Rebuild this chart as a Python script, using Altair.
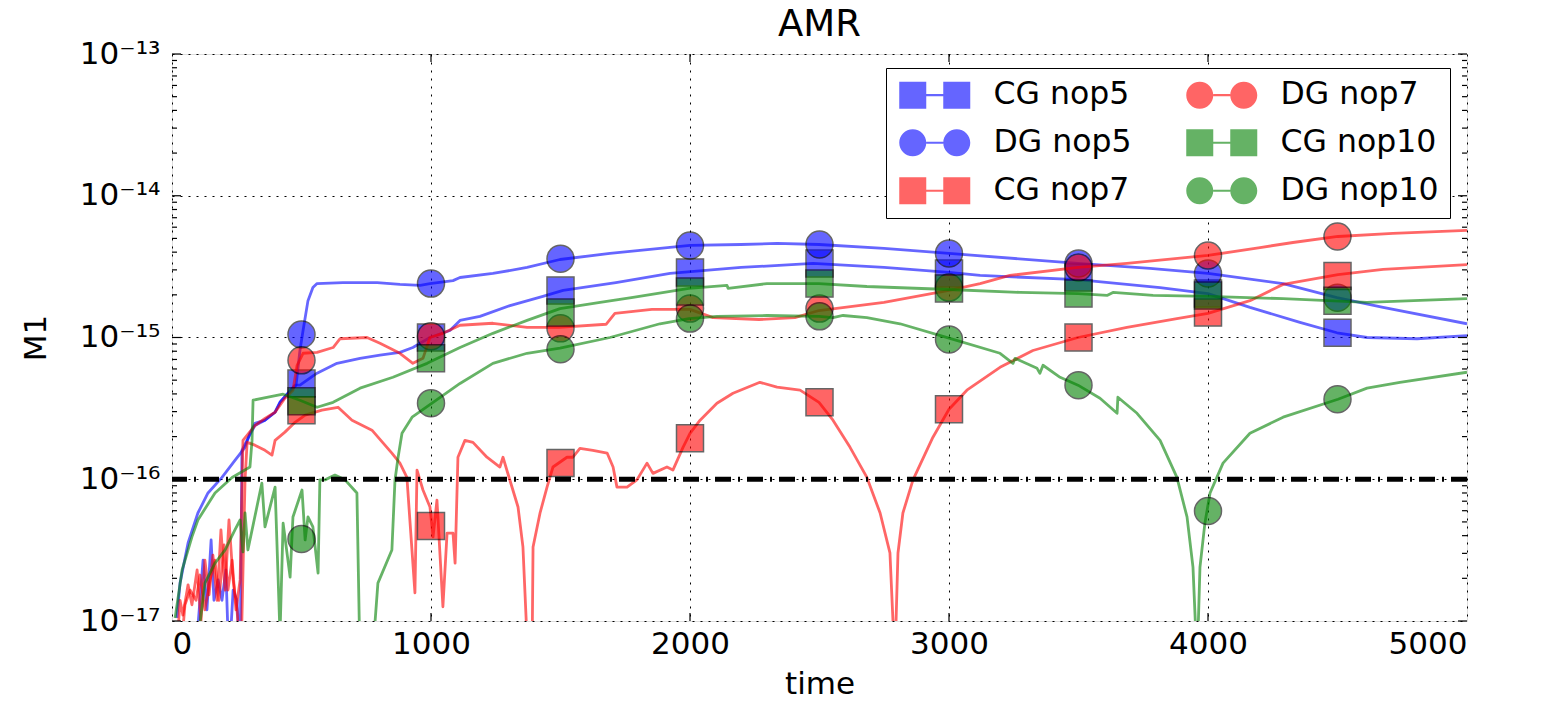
import altair as alt
import pandas as pd

# ---------------- data (time, M1) ----------------
cg_nop5 = [(19, 1.05e-17), (31, 1.85e-17), (62, 3.55e-17), (100, 5.78e-17), (139, 8.0e-17), (193, 1.03e-16),
           (243, 1.36e-16), (282, 1.68e-16), (301, 2.11e-16), (320, 2.48e-16), (359, 2.61e-16), (398, 2.97e-16),
           (417, 3.49e-16), (448, 4.04e-16), (475, 4.61e-16), (494, 4.61e-16), (560, 5.6e-16), (637, 6.57e-16),
           (726, 7.13e-16), (803, 7.5e-16), (880, 7.86e-16), (930, 8.5e-16), (996, 1.0e-15), (1073, 1.12e-15),
           (1112, 1.32e-15), (1189, 1.41e-15), (1305, 1.68e-15), (1432, 1.95e-15), (1510, 2.15e-15),
           (1714, 2.44e-15), (1923, 2.83e-15), (2197, 3.12e-15), (2475, 3.33e-15), (2749, 3.12e-15),
           (3000, 2.88e-15), (3120, 2.74e-15), (3498, 2.56e-15), (3815, 2.25e-15), (4000, 2.04e-15),
           (4162, 1.63e-15), (4355, 1.28e-15), (4498, 1.08e-15), (4614, 1.0e-15), (4807, 9.8e-16), (5000, 1.03e-15)]

dg_nop5 = [(89, 5e-18), (120, 2.69e-17), (135, 1.2e-17), (151, 3.73e-17), (162, 1.4e-17), (178, 1.95e-17),
           (193, 1.4e-17), (208, 2.29e-17), (220, 5e-18), (236, 1.65e-17), (251, 1.4e-17), (263, 5e-18),
           (270, 1.6e-16), (301, 2.07e-16), (320, 2.39e-16), (359, 2.61e-16), (398, 2.97e-16), (417, 3.49e-16),
           (448, 4.04e-16), (479, 4.61e-16), (494, 8.1e-16), (506, 1.12e-15), (525, 1.82e-15), (544, 2.25e-15),
           (560, 2.4e-15), (660, 2.44e-15), (792, 2.44e-15), (880, 2.37e-15), (958, 2.33e-15), (996, 2.4e-15),
           (1085, 2.52e-15), (1112, 2.65e-15), (1239, 2.83e-15), (1371, 3.12e-15), (1498, 3.55e-15),
           (1691, 3.92e-15), (1884, 4.25e-15), (2000, 4.46e-15), (2197, 4.53e-15), (2336, 4.61e-15),
           (2498, 4.53e-15), (2749, 4.25e-15), (3000, 3.92e-15), (3498, 3.33e-15), (3776, 3.07e-15),
           (4000, 2.83e-15), (4290, 2.4e-15), (4498, 1.91e-15), (4676, 1.63e-15), (5000, 1.25e-15)]

cg_nop7 = [(15, 5e-18), (31, 1.4e-17), (42, 1.1e-17), (62, 1.8e-17), (77, 1.3e-17), (97, 2.29e-17), (112, 1.0e-17),
           (127, 2.69e-17), (143, 1.53e-17), (158, 2.92e-17), (174, 1.4e-17), (189, 4.39e-17), (205, 1.65e-17),
           (220, 5.16e-17), (236, 1.95e-17), (251, 1.2e-17), (266, 5e-18), (282, 9.9e-17), (290, 1.82e-16),
           (320, 1.74e-16), (359, 1.6e-16), (386, 1.48e-16), (398, 1.88e-16), (436, 2.15e-16), (475, 2.52e-16),
           (514, 2.83e-16), (579, 3.07e-16), (641, 3.22e-16), (695, 2.61e-16), (772, 2.22e-16), (849, 1.53e-16),
           (880, 1.3e-16), (907, 1.03e-16), (938, 1.58e-17), (946, 1.16e-16), (969, 8.4e-17), (996, 6.37e-17),
           (1008, 3.92e-17), (1023, 7.13e-17), (1046, 1.26e-17), (1062, 4.17e-17), (1085, 4.17e-17),
           (1093, 2.56e-17), (1104, 1.43e-16), (1131, 1.88e-16), (1162, 1.82e-16), (1216, 1.43e-16),
           (1266, 1.22e-16), (1278, 1.43e-16), (1305, 9.8e-17), (1336, 6.37e-17), (1355, 3.33e-17),
           (1375, 5e-18), (1390, 5e-18), (1394, 3.33e-17), (1421, 5.78e-17), (1448, 8.8e-17), (1471, 1.22e-16),
           (1525, 1.43e-16), (1548, 1.43e-16), (1575, 1.65e-16), (1625, 1.6e-16), (1680, 1.53e-16),
           (1703, 1.22e-16), (1718, 8.8e-17), (1757, 8.8e-17), (1795, 9.9e-17), (1834, 1.3e-16), (1857, 1.1e-16),
           (1911, 1.22e-16), (1934, 1.16e-16), (1973, 1.68e-16), (2000, 2.11e-16), (2039, 2.61e-16),
           (2104, 3.44e-16), (2166, 4.04e-16), (2270, 4.83e-16), (2336, 4.46e-16), (2425, 4.25e-16),
           (2498, 3.49e-16), (2552, 2.61e-16), (2618, 1.68e-16), (2683, 1.03e-16), (2734, 5.78e-17),
           (2772, 3.02e-17), (2791, 5e-18), (2803, 3.02e-17), (2822, 5.78e-17), (2861, 9.9e-17), (2938, 1.98e-16),
           (3000, 3.12e-16), (3069, 4.25e-16), (3197, 6.16e-16), (3324, 8.1e-16), (3498, 1.0e-15),
           (3687, 1.18e-15), (3880, 1.36e-15), (4000, 1.48e-15), (4162, 1.82e-15), (4290, 2.37e-15),
           (4502, 2.78e-15), (4676, 3.02e-15), (5000, 3.27e-15)]

dg_nop7 = [(31, 5e-18), (50, 1.3e-17), (70, 1.65e-17), (93, 1.4e-17), (108, 2.11e-17), (127, 1.2e-17),
           (147, 1.95e-17), (166, 2.69e-17), (181, 1.4e-17), (201, 3.44e-17), (216, 1.65e-17), (232, 2.69e-17),
           (247, 1.2e-17), (263, 1.95e-17), (274, 1.88e-16), (320, 2.39e-16), (359, 2.69e-16), (398, 2.97e-16),
           (436, 3.73e-16), (467, 4.25e-16), (483, 6.37e-16), (506, 7.74e-16), (560, 7.86e-16), (622, 8.5e-16),
           (649, 9.8e-16), (753, 1.0e-15), (803, 9.1e-16), (880, 7.74e-16), (930, 6.57e-16), (969, 7.13e-16),
           (996, 1.0e-15), (1046, 1.07e-15), (1112, 1.22e-15), (1239, 1.26e-15), (1371, 1.18e-15),
           (1494, 1.18e-15), (1676, 1.24e-15), (1710, 1.48e-15), (1853, 1.58e-15), (2000, 1.58e-15),
           (2089, 1.38e-15), (2266, 1.34e-15), (2405, 1.38e-15), (2498, 1.55e-15), (2749, 1.77e-15),
           (3000, 2.15e-15), (3120, 2.4e-15), (3235, 2.74e-15), (3498, 3.12e-15), (3687, 3.33e-15),
           (4000, 3.79e-15), (4201, 4.31e-15), (4328, 4.68e-15), (4502, 5.16e-15), (4714, 5.42e-15),
           (5000, 5.69e-15)]

cg_nop10 = [(12, 1.05e-17), (39, 2.29e-17), (77, 3.92e-17), (100, 5.16e-17), (166, 8.0e-17), (232, 1.03e-16),
            (301, 1.22e-16), (309, 1.88e-16), (313, 3.61e-16), (371, 3.79e-16), (429, 3.98e-16), (494, 3.61e-16),
            (560, 3.22e-16), (622, 3.49e-16), (726, 4.39e-16), (853, 5.24e-16), (985, 6.57e-16), (1112, 8.5e-16),
            (1239, 1.07e-15), (1371, 1.32e-15), (1498, 1.6e-15), (1653, 1.77e-15), (1780, 1.92e-15),
            (1996, 2.22e-15), (2143, 2.33e-15), (2147, 2.22e-15), (2297, 2.4e-15), (2498, 2.4e-15),
            (2683, 2.29e-15), (3000, 2.18e-15), (3274, 2.08e-15), (3498, 2.04e-15), (3610, 1.98e-15),
            (3633, 2.08e-15), (3788, 1.98e-15), (4000, 1.95e-15), (4290, 1.88e-15), (4614, 1.77e-15),
            (5000, 1.88e-15)]

dg_nop10 = [(89, 5e-18), (127, 1.85e-17), (166, 2.56e-17), (205, 3.17e-17), (243, 4.39e-17), (263, 5.16e-17),
            (274, 3.07e-17), (282, 5.78e-17), (293, 3.17e-17), (347, 9.4e-17), (359, 4.61e-17), (398, 8.8e-17),
            (417, 8e-18), (429, 4.9e-17), (436, 3.92e-17), (456, 2.04e-17), (467, 5.42e-17), (502, 8.4e-17),
            (514, 3.73e-17), (525, 5.42e-17), (544, 4.61e-17), (564, 2.18e-17), (571, 9.9e-17), (591, 9.9e-17),
            (629, 1.07e-16), (668, 9.9e-17), (714, 8.0e-17), (726, 5e-18), (772, 5e-18), (795, 1.85e-17),
            (849, 3.17e-17), (861, 9.9e-17), (873, 1.43e-16), (888, 2.11e-16), (927, 2.74e-16), (1004, 3.44e-16),
            (1112, 4.74e-16), (1239, 6.57e-16), (1371, 7.74e-16), (1498, 8.4e-16), (1691, 1.0e-15),
            (1884, 1.25e-15), (1996, 1.36e-15), (2104, 1.41e-15), (2297, 1.43e-15), (2498, 1.41e-15),
            (2552, 1.38e-15), (2591, 1.43e-15), (2683, 1.38e-15), (2811, 1.25e-15), (3000, 9.9e-16),
            (3197, 7.74e-16), (3247, 6.57e-16), (3255, 7.13e-16), (3340, 6.06e-16), (3351, 5.6e-16),
            (3363, 6.37e-16), (3429, 5.24e-16), (3498, 4.61e-16), (3583, 3.73e-16), (3649, 2.92e-16),
            (3652, 3.79e-16), (3726, 2.92e-16), (3815, 1.88e-16), (3880, 1.03e-16), (3919, 5.42e-17),
            (3942, 2.4e-17), (3958, 5e-18), (3969, 2.4e-17), (3988, 4.9e-17), (4008, 8.0e-17), (4058, 1.3e-16),
            (4162, 2.11e-16), (4290, 2.74e-16), (4502, 3.67e-16), (4614, 4.39e-16), (4741, 4.83e-16),
            (5000, 5.69e-16)]

# markers every 500 time units
marker_times = [500, 1000, 1500, 2000, 2500, 3000, 3500, 4000, 4500]
cg_nop5_markers = [4.74e-16, 1.0e-15, 2.15e-15, 2.88e-15, 3.33e-15, 2.83e-15, 2.65e-15, 2.04e-15, 1.08e-15]
dg_nop5_markers = [1.05e-15, 2.4e-15, 3.6e-15, 4.46e-15, 4.53e-15, 3.92e-15, 3.33e-15, 2.83e-15, 1.91e-15]
cg_nop7_markers = [3.07e-16, 4.68e-17, 1.3e-16, 1.95e-16, 3.5e-16, 3.12e-16, 1.0e-15, 1.5e-15, 2.72e-15]
dg_nop7_markers = [6.9e-16, 1.02e-15, 1.16e-15, 1.6e-15, 1.6e-15, 2.25e-15, 3.12e-15, 3.79e-15, 5.16e-15]
cg_nop10_markers = [3.55e-16, 7.13e-16, 1.5e-15, 2.11e-15, 2.4e-15, 2.22e-15, 2.04e-15, 1.98e-15, 1.82e-15]
dg_nop10_markers = [3.79e-17, 3.44e-16, 8.26e-16, 1.36e-15, 1.41e-15, 9.7e-16, 4.61e-16, 5.97e-17, 3.67e-16]

series_names = ["CG nop5", "DG nop5", "CG nop7", "DG nop7", "CG nop10", "DG nop10"]
series_colors = ["#0000ff", "#0000ff", "#ff0000", "#ff0000", "#008000", "#008000"]
series_marker_shape = ["square", "circle", "square", "circle", "square", "circle"]
series_lines = [cg_nop5, dg_nop5, cg_nop7, dg_nop7, cg_nop10, dg_nop10]
series_markers = [cg_nop5_markers, dg_nop5_markers, cg_nop7_markers, dg_nop7_markers,
                  cg_nop10_markers, dg_nop10_markers]

# legend glyphs: marker - line - marker
sq_path = "M-1,-1H1V1H-1Z M2.26,-1H4.26V1H2.26Z M1,-0.08H2.26V0.08H1Z"
ci_path = ("M-1,0A1,1 0 1,1 1,0A1,1 0 1,1 -1,0Z M2.26,0A1,1 0 1,1 4.26,0A1,1 0 1,1 2.26,0Z "
           "M1,-0.08H2.26V0.08H1Z")
legend_glyphs = [sq_path if s == "square" else ci_path for s in series_marker_shape]

x_tick_values = [0, 1000, 2000, 3000, 4000, 5000]
x_inner_ticks = [1000, 2000, 3000, 4000]
y_tick_values = [1e-17, 1e-16, 1e-15, 1e-14, 1e-13]
y_tick_exponents = [-17, -16, -15, -14, -13]
y_tick_labels = ["10⁻¹⁷", "10⁻¹⁶", "10⁻¹⁵", "10⁻¹⁴", "10⁻¹³"]
y_minor_ticks = [m * d for d in (1e-17, 1e-16, 1e-15, 1e-14) for m in range(2, 10)]
threshold = [1e-16]

W, H = 1295, 567
FONT = "DejaVu Sans"
FS = 31

# ---------------- tables ----------------
line_tables = [pd.DataFrame({"time": [p[0] for p in pts], "M1": [p[1] for p in pts],
                             "idx": list(range(len(pts)))}) for pts in series_lines]
marker_tables = [pd.DataFrame({"time": marker_times, "M1": vals}) for vals in series_markers]
# one row per series, placed far outside the x domain (clipped) - it only carries the legend
legend_df = pd.DataFrame({"series": series_names, "time": [-3000.0] * 6, "M1": [1e-15] * 6})

label_expr = "".join(
    f"round(log(datum.value)/LN10) == {e} ? '{lab}' : " for e, lab in zip(y_tick_exponents, y_tick_labels)
) + "''"

x_scale = alt.Scale(domain=[0, 5000], nice=False, zero=False)
y_scale = alt.Scale(type="log", domain=[1e-17, 1e-13], nice=False)

x_enc = alt.X("time:Q", scale=x_scale, axis=alt.Axis(
    values=x_tick_values, format="d", title="time", ticks=False, domain=False,
    grid=True, gridDash=[2, 6], gridColor="black", gridWidth=1, gridOpacity=1,
    labelFont=FONT, labelFontSize=FS, labelColor="black", labelPadding=8,
    titleFont=FONT, titleFontSize=FS, titleFontWeight="normal", titleColor="black", titlePadding=10))
y_enc = alt.Y("M1:Q", scale=y_scale, axis=alt.Axis(
    values=y_tick_values, labelExpr=label_expr, title="M1", ticks=False, domain=False,
    grid=True, gridDash=[2, 6], gridColor="black", gridWidth=1, gridOpacity=1,
    labelFont=FONT, labelFontSize=FS, labelColor="black", labelPadding=12,
    titleFont=FONT, titleFontSize=FS, titleFontWeight="normal", titleColor="black", titlePadding=27))

legend = alt.Legend(
    title=None, orient="none", legendX=714, legendY=14, columns=2, columnPadding=52, rowPadding=15,
    padding=11, labelFont=FONT, labelFontSize=31.5, labelColor="black", labelOffset=65, labelLimit=400,
    symbolSize=729, symbolOpacity=0.6, symbolStrokeColor="black", symbolStrokeWidth=1,
    strokeColor="black", fillColor="white", cornerRadius=0)

layers = []
for k, (tbl, mtbl, col, shp) in enumerate(zip(line_tables, marker_tables, series_colors, series_marker_shape)):
    line = alt.Chart(tbl).mark_line(color=col, strokeWidth=2.8, opacity=0.6, clip=True,
                                    strokeJoin="round").encode(
        x=x_enc if k == 0 else "time:Q", y=y_enc if k == 0 else "M1:Q", order="idx:Q")
    pts = alt.Chart(mtbl).mark_point(shape=shp, filled=True, color=col, size=729, opacity=0.6,
                                     stroke="black", strokeWidth=1.5, clip=True).encode(
        x="time:Q", y="M1:Q")
    layers += [line, pts]

legend_layer = alt.Chart(legend_df).mark_point(filled=True, opacity=0.6, clip=True).encode(
    x="time:Q", y="M1:Q",
    color=alt.Color("series:N", scale=alt.Scale(domain=series_names, range=series_colors), legend=legend),
    shape=alt.Shape("series:N", scale=alt.Scale(domain=series_names, range=legend_glyphs), legend=legend))

dash = alt.Chart(pd.DataFrame({"M1": threshold})).mark_rule(
    color="black", strokeWidth=5, strokeDash=[16, 7, 2, 7]).encode(y="M1:Q")

ymaj_df = pd.DataFrame({"M1": y_tick_values})
ymin_df = pd.DataFrame({"M1": y_minor_ticks})
xmaj_df = pd.DataFrame({"time": x_inner_ticks})

def yrule(df, x0, x1):
    return alt.Chart(df).mark_rule(color="black", strokeWidth=1.2).encode(
        y="M1:Q", x=alt.value(x0), x2=alt.value(x1))

def xrule(y0, y1):
    return alt.Chart(xmaj_df).mark_rule(color="black", strokeWidth=1.2).encode(
        x="time:Q", y=alt.value(y0), y2=alt.value(y1))

tick_layers = [
    yrule(ymaj_df, 0, 9), yrule(ymaj_df, W - 9, W),
    yrule(ymin_df, 0, 5), yrule(ymin_df, W - 5, W),
    xrule(H, H - 8), xrule(0, 8),
]

chart = alt.layer(*layers, dash, *tick_layers, legend_layer).properties(
    width=W, height=H,
    title=alt.TitleParams("AMR", font=FONT, fontSize=37, fontWeight="normal", color="black",
                          offset=6, dy=12, frame="group"),
    padding={"left": 172, "top": 54, "right": 84, "bottom": 87},
    autosize=alt.AutoSizeParams(type="none"),
    background="white",
).configure_view(stroke="black", strokeWidth=2.5).configure_legend(strokeWidth=2).configure(font=FONT)

chart.save("out.html", embed_options={"renderer": "svg", "actions": False})
